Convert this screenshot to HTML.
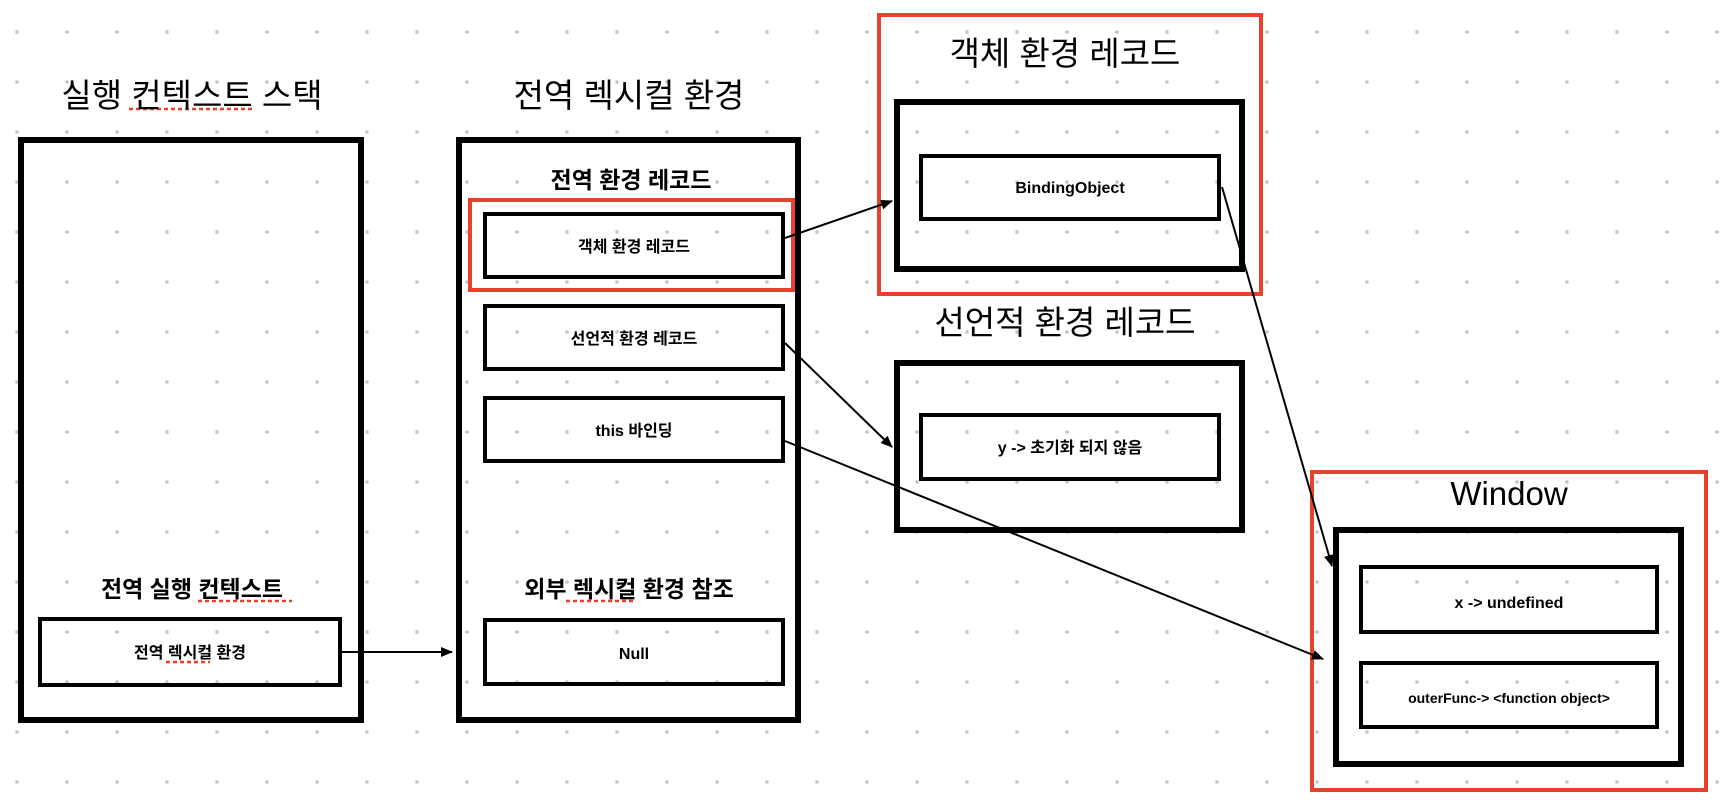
<!DOCTYPE html>
<html><head><meta charset="utf-8"><style>
html,body{margin:0;padding:0;background:#fff;}
svg{display:block;}
text{font-family:"Liberation Sans","Noto Sans CJK KR",sans-serif;fill:#000;}
</style></head><body>
<svg width="1722" height="804" viewBox="0 0 1722 804" xmlns="http://www.w3.org/2000/svg">
<defs>
<pattern id="dots" x="0" y="0" width="50" height="50" patternUnits="userSpaceOnUse">
<circle cx="17" cy="32" r="1.8" fill="#c4c4c4"/>
</pattern>
<marker id="ah" markerWidth="12" markerHeight="10" refX="11" refY="5" orient="auto" markerUnits="userSpaceOnUse">
<path d="M0,0 L12,5 L0,10 z" fill="#000"/>
</marker>
</defs>
<rect width="1722" height="804" fill="url(#dots)"/>
<g fill="none" stroke="#000">
<rect x="21" y="140" width="340" height="580" stroke-width="6"/>
<rect x="40" y="619" width="300" height="66" stroke-width="4"/>
<rect x="459" y="140" width="339" height="580" stroke-width="6"/>
<rect x="485" y="214" width="298" height="63" stroke-width="4"/>
<rect x="485" y="306" width="298" height="63" stroke-width="4"/>
<rect x="485" y="398" width="298" height="63" stroke-width="4"/>
<rect x="485" y="620" width="298" height="64" stroke-width="4"/>
<rect x="897" y="102" width="345" height="167" stroke-width="6"/>
<rect x="921" y="156" width="298" height="63" stroke-width="4"/>
<rect x="897" y="363" width="345" height="167" stroke-width="6"/>
<rect x="921" y="415" width="298" height="64" stroke-width="4"/>
<rect x="1336" y="530" width="345" height="234" stroke-width="6"/>
<rect x="1361" y="567" width="296" height="65" stroke-width="4"/>
<rect x="1361" y="663" width="296" height="64" stroke-width="4"/>
</g>
<g fill="none" stroke="#e8432a" stroke-width="4">
<rect x="470" y="200" width="323" height="90"/>
<rect x="879" y="15" width="382" height="279"/>
<rect x="1312" y="472" width="394" height="318"/>
</g>
<g stroke="#000" stroke-width="2" fill="none">
<line x1="342" y1="652" x2="452" y2="652" marker-end="url(#ah)"/>
<line x1="785" y1="238" x2="892" y2="201" marker-end="url(#ah)"/>
<line x1="785" y1="343" x2="892" y2="447" marker-end="url(#ah)"/>
<line x1="785" y1="441" x2="1323" y2="659" marker-end="url(#ah)"/>
<line x1="1222" y1="187" x2="1332" y2="566" marker-end="url(#ah)"/>
</g>
<g stroke="#e8432a" stroke-width="2.5" stroke-dasharray="4,3">
<line x1="129" y1="109" x2="255" y2="109"/>
<line x1="198" y1="601" x2="292" y2="601"/>
<line x1="166" y1="662" x2="210" y2="662"/>
<line x1="566" y1="601" x2="634" y2="601"/>
</g>
<g text-anchor="middle" font-size="33">
<text x="192" y="107">실행 컨텍스트 스택</text>
<text x="629" y="107">전역 렉시컬 환경</text>
<text x="1065" y="65">객체 환경 레코드</text>
<text x="1065" y="334">선언적 환경 레코드</text>
<text x="1509" y="505">Window</text>
</g>
<g text-anchor="middle" font-size="23" font-weight="bold">
<text x="631" y="188">전역 환경 레코드</text>
<text x="192" y="597">전역 실행 컨텍스트</text>
<text x="629" y="597">외부 렉시컬 환경 참조</text>
</g>
<g text-anchor="middle" font-size="16" font-weight="bold">
<text x="634" y="252">객체 환경 레코드</text>
<text x="634" y="344">선언적 환경 레코드</text>
<text x="634" y="436">this 바인딩</text>
<text x="634" y="659">Null</text>
<text x="190" y="658">전역 렉시컬 환경</text>
<text x="1070" y="193">BindingObject</text>
<text x="1070" y="453">y -&gt; 초기화 되지 않음</text>
<text x="1509" y="608">x -&gt; undefined</text>
<text x="1509" y="703" font-size="14">outerFunc-&gt; &lt;function object&gt;</text>
</g>
</svg>
</body></html>
